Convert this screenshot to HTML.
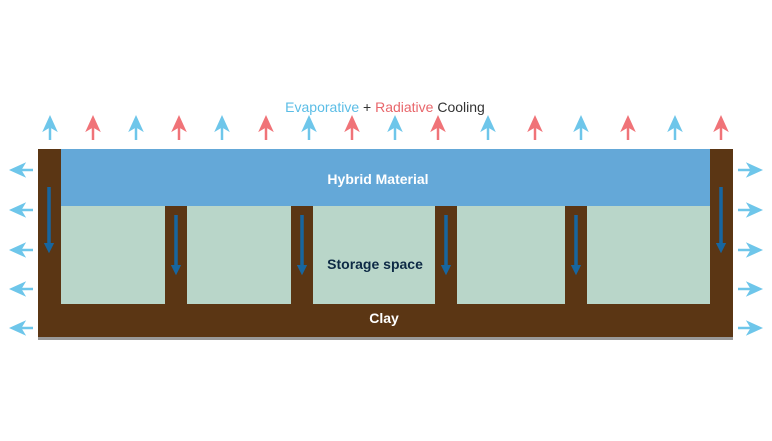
<!DOCTYPE html>
<html><head><style>body{margin:0;background:#fff}svg{display:block}</style></head><body>
<svg width="772" height="441" viewBox="0 0 772 441" xmlns="http://www.w3.org/2000/svg" font-family="Liberation Sans, sans-serif">
<defs>
<marker id="db" viewBox="0 0 10 10" refX="5" refY="5" markerWidth="3" markerHeight="3" orient="auto"><path d="M0,0L10,5L0,10z" fill="#1766a0"/></marker>
</defs>
<rect x="38" y="337" width="695" height="3" fill="#999"/>
<rect x="38" y="149" width="695" height="188" fill="#5b3614"/>
<rect x="61" y="149" width="649" height="57" fill="#64a8d8"/>
<g fill="#b9d6c9">
<rect x="61" y="206" width="104" height="98"/><rect x="187" y="206" width="104" height="98"/><rect x="313" y="206" width="122" height="98"/><rect x="457" y="206" width="108" height="98"/><rect x="587" y="206" width="123" height="98"/>
</g>
<g fill="#5b3614"><rect x="165" y="206" width="22" height="98"/><rect x="291" y="206" width="22" height="98"/><rect x="435" y="206" width="22" height="98"/><rect x="565" y="206" width="22" height="98"/></g>
<g stroke="#1766a0" stroke-width="3.5" marker-end="url(#db)">
<line x1="49" y1="187" x2="49" y2="248"/><line x1="721" y1="187" x2="721" y2="248"/>
<line x1="176" y1="215" x2="176" y2="270"/><line x1="302" y1="215" x2="302" y2="270"/><line x1="446" y1="215" x2="446" y2="270"/><line x1="576" y1="215" x2="576" y2="270"/>
</g>
<text x="378" y="184" text-anchor="middle" font-size="14" font-weight="bold" fill="#fff">Hybrid Material</text>
<text x="375" y="269" text-anchor="middle" font-size="14" font-weight="bold" fill="#0d2a45">Storage space</text>
<text x="384" y="323" text-anchor="middle" font-size="14" font-weight="bold" fill="#fff">Clay</text>
<text x="385" y="112" text-anchor="middle" font-size="14"><tspan fill="#5bbde6">Evaporative</tspan><tspan fill="#333"> + </tspan><tspan fill="#e8666b">Radiative</tspan><tspan fill="#333"> Cooling</tspan></text>
<g stroke-width="2.5" stroke-linecap="butt">
<g stroke="#6ec6ea" fill="#6ec6ea">
<path d="M50 140V124"/><path d="M45 129L50 118L55 129L50 126z"/>
<path d="M136 140V124"/><path d="M131 129L136 118L141 129L136 126z"/>
<path d="M222 140V124"/><path d="M217 129L222 118L227 129L222 126z"/>
<path d="M309 140V124"/><path d="M304 129L309 118L314 129L309 126z"/>
<path d="M395 140V124"/><path d="M390 129L395 118L400 129L395 126z"/>
<path d="M488 140V124"/><path d="M483 129L488 118L493 129L488 126z"/>
<path d="M581 140V124"/><path d="M576 129L581 118L586 129L581 126z"/>
<path d="M675 140V124"/><path d="M670 129L675 118L680 129L675 126z"/>
</g>
<g stroke="#f07378" fill="#f07378">
<path d="M93 140V124"/><path d="M88 129L93 118L98 129L93 126z"/>
<path d="M179 140V124"/><path d="M174 129L179 118L184 129L179 126z"/>
<path d="M266 140V124"/><path d="M261 129L266 118L271 129L266 126z"/>
<path d="M352 140V124"/><path d="M347 129L352 118L357 129L352 126z"/>
<path d="M438 140V124"/><path d="M433 129L438 118L443 129L438 126z"/>
<path d="M535 140V124"/><path d="M530 129L535 118L540 129L535 126z"/>
<path d="M628 140V124"/><path d="M623 129L628 118L633 129L628 126z"/>
<path d="M721 140V124"/><path d="M716 129L721 118L726 129L721 126z"/>
</g>
<g stroke="#6ec6ea" fill="#6ec6ea">
<path d="M33 170H18"/><path d="M23 165L12 170L23 175L20 170z"/>
<path d="M33 210H18"/><path d="M23 205L12 210L23 215L20 210z"/>
<path d="M33 250H18"/><path d="M23 245L12 250L23 255L20 250z"/>
<path d="M33 289H18"/><path d="M23 284L12 289L23 294L20 289z"/>
<path d="M33 328H18"/><path d="M23 323L12 328L23 333L20 328z"/>
<path d="M738 170H754"/><path d="M749 165L760 170L749 175L752 170z"/>
<path d="M738 210H754"/><path d="M749 205L760 210L749 215L752 210z"/>
<path d="M738 250H754"/><path d="M749 245L760 250L749 255L752 250z"/>
<path d="M738 289H754"/><path d="M749 284L760 289L749 294L752 289z"/>
<path d="M738 328H754"/><path d="M749 323L760 328L749 333L752 328z"/>
</g>
</g>
</svg>
</body></html>
